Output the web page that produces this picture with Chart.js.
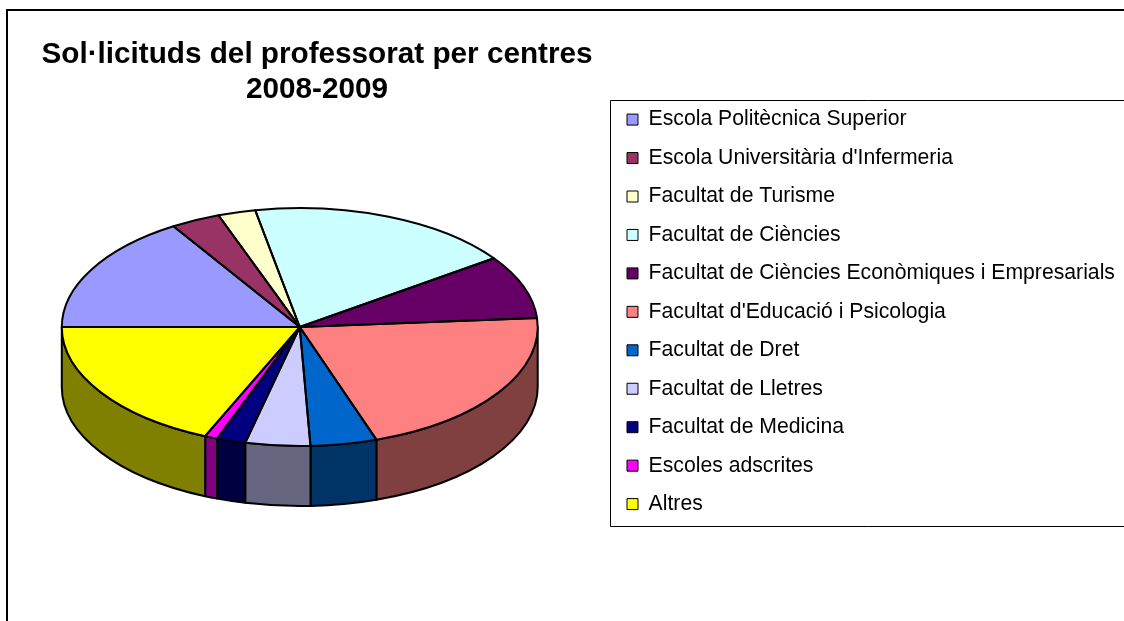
<!DOCTYPE html>
<html>
<head>
<meta charset="utf-8">
<title>Sol·licituds del professorat per centres 2008-2009</title>
<script src="https://cdn.jsdelivr.net/npm/chart.js@4"></script>
<style>
  body { margin: 0; background: #fff; }
  canvas { display: block; }
</style>
</head>
<body>
<canvas id="pie" width="1124" height="621"></canvas>
<script>
const centres = [
  'Escola Politècnica Superior',
  "Escola Universitària d'Infermeria",
  'Facultat de Turisme',
  'Facultat de Ciències',
  'Facultat de Ciències Econòmiques i Empresarials',
  "Facultat d'Educació i Psicologia",
  'Facultat de Dret',
  'Facultat de Lletres',
  'Facultat de Medicina',
  'Escoles adscrites',
  'Altres'
];
// % of the pie
const sollicituds = [16.1, 3.36, 2.55, 18.2, 8.6, 21.0, 4.5, 4.4, 1.97, 0.86, 18.5];
const topColors = ['#9999FF', '#993366', '#FFFFCC', '#CCFFFF', '#660066', '#FF8080', '#0066CC', '#CCCCFF', '#000080', '#FF00FF', '#FFFF00'];
const sideColors = ['#4D4D80', '#4D1A33', '#808066', '#668080', '#330033', '#804040', '#003366', '#666680', '#000040', '#800080', '#808000'];
const titleLines = ['Sol·licituds del professorat per centres', '2008-2009'];

const SQUASH = 0.5;   // pie tilt
const DEPTH = 60;     // height of the side wall

// pie is laid out as a circle, then flattened around its centre
function flatten(ctx, y) {
  ctx.translate(0, y);
  ctx.scale(1, SQUASH);
  ctx.translate(0, -y);
}

// lower half of the rim only, that's the part you can see
function visibleRim(a0, a1) {
  const start = ((a0 % (2 * Math.PI)) + 2 * Math.PI) % (2 * Math.PI);
  const end = start + (a1 - a0);
  const parts = [];
  [[0, Math.PI], [2 * Math.PI, 3 * Math.PI]].forEach(([lo, hi]) => {
    const s = Math.max(start, lo), e = Math.min(end, hi);
    if (e > s) parts.push([s, e]);
  });
  return parts;
}

const pie3d = {
  id: 'pie3d',
  beforeDraw(chart) {
    // outer frame and legend frame, both run off the right edge
    const ctx = chart.ctx;
    ctx.save();
    ctx.strokeStyle = '#000';
    ctx.lineWidth = 2;
    ctx.beginPath();
    ctx.moveTo(7, 621);
    ctx.lineTo(7, 10);
    ctx.lineTo(1124, 10);
    ctx.stroke();
    ctx.lineWidth = 1;
    ctx.beginPath();
    ctx.moveTo(1124, 100.5);
    ctx.lineTo(610.5, 100.5);
    ctx.lineTo(610.5, 526.5);
    ctx.lineTo(1124, 526.5);
    ctx.stroke();
    ctx.restore();
  },
  afterLayout(chart) {
    // pie keeps its own box, title and legend go where the original has them
    const t = chart.titleBlock;
    t.left = 41; t.right = 593; t.top = 37;
    const l = chart.legend;
    const pad = l.options.labels.padding;
    l.left = 627 - pad;
    l.right = 1124;
    l.top = 109 - pad;
    l.bottom = 560;
  },
  beforeDatasetsDraw(chart) {
    const ctx = chart.ctx;
    const arcs = chart.getDatasetMeta(0).data;
    ctx.save();
    ctx.strokeStyle = '#000';
    ctx.lineWidth = 2;
    ctx.lineJoin = 'round';
    arcs.forEach((arc, i) => {
      const ry = arc.outerRadius * SQUASH;
      visibleRim(arc.startAngle, arc.endAngle).forEach(([s, e]) => {
        ctx.beginPath();
        ctx.ellipse(arc.x, arc.y, arc.outerRadius, ry, 0, s, e);
        ctx.ellipse(arc.x, arc.y + DEPTH, arc.outerRadius, ry, 0, e, s, true);
        ctx.closePath();
        ctx.fillStyle = sideColors[i];
        ctx.fill();
        ctx.stroke();
      });
    });
    ctx.restore();
    ctx.save();
    flatten(ctx, arcs[0].y);
  },
  afterDatasetsDraw(chart) {
    const ctx = chart.ctx;
    ctx.restore();
    ctx.save();
    ctx.strokeStyle = '#000';
    ctx.lineWidth = 2;
    ctx.lineJoin = 'round';
    chart.getDatasetMeta(0).data.forEach(arc => {
      ctx.beginPath();
      ctx.moveTo(arc.x, arc.y);
      ctx.ellipse(arc.x, arc.y, arc.outerRadius, arc.outerRadius * SQUASH, 0, arc.startAngle, arc.endAngle);
      ctx.closePath();
      ctx.stroke();
    });
    ctx.restore();
  }
};

new Chart(document.getElementById('pie'), {
  type: 'pie',
  data: {
    labels: centres,
    datasets: [{
      data: sollicituds,
      backgroundColor: topColors,
      borderWidth: 0
    }]
  },
  options: {
    responsive: false,
    animation: false,
    rotation: 270,
    layout: { padding: { left: 61, right: 108, top: 19, bottom: 56 } },
    plugins: {
      tooltip: { enabled: false },
      title: {
        display: true,
        text: titleLines,
        color: '#000',
        padding: { top: 0, bottom: 0 },
        font: { family: '"Liberation Sans"', size: 29.7, weight: 'bold', lineHeight: 1.18 }
      },
      legend: {
        position: 'right',
        align: 'start',
        labels: {
          color: '#000',
          boxWidth: 11,
          boxHeight: 11,
          padding: 17.25,
          font: { family: '"Liberation Sans"', size: 21.2 },
          generateLabels(chart) {
            return centres.map((c, i) => ({
              text: c,
              fillStyle: topColors[i],
              strokeStyle: '#000',
              lineWidth: 1,
              hidden: false,
              index: i
            }));
          }
        }
      }
    }
  },
  plugins: [pie3d]
});
</script>
</body>
</html>
